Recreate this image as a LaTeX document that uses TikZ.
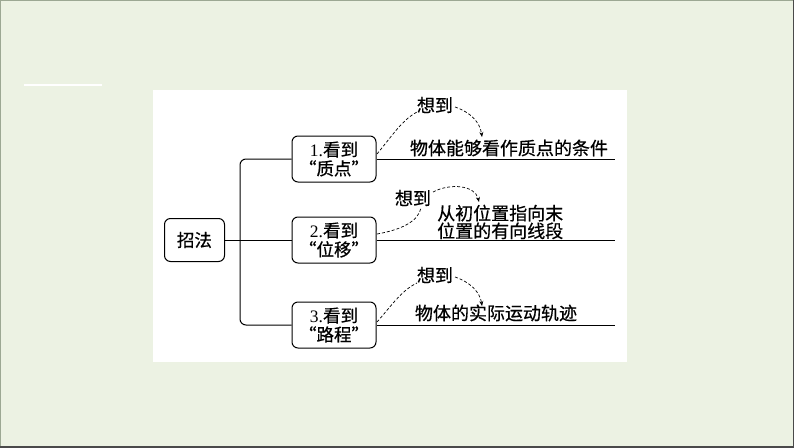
\documentclass[tikz,border=0pt]{standalone}
\usepackage{fontspec}
\setmainfont{Liberation Serif}
\newfontfamily\cjk[FakeBold=0.6]{Noto Sans CJK SC}
\usetikzlibrary{arrows.meta}
\definecolor{bgc}{HTML}{ECF2E3}
\definecolor{edgel}{HTML}{9CA893}
\definecolor{edged}{HTML}{4A4A4A}
\tikzset{
  box/.style={draw, line width=1pt, rounded corners=6pt, align=center, inner sep=0pt,
    font=\fontsize{17.5}{19}\selectfont\cjk},
  lbl/.style={inner sep=0pt, font=\fontsize{18}{18}\selectfont\cjk},
  conn/.style={line width=1pt},
  dsh/.style={dashed, line width=0.7pt, dash pattern=on 3pt off 2pt},
  arr/.style={-{Stealth[length=5pt,width=4pt]}}
}
\begin{document}
\begin{tikzpicture}[x=1pt,y=-1pt]
\useasboundingbox (0,0) rectangle (794,447);
\fill[bgc] (0,0) rectangle (794,447);
\draw[edgel, line width=2pt] (0,447) -- (0,0) -- (794,0);
\draw[edged, line width=2pt] (0,447) -- (794,447) -- (794,0);
\draw[white, line width=1.5pt] (24,85) -- (102,85);
\fill[white] (153,90) rectangle (627,362);

\node[box, minimum width=60pt, minimum height=43pt] (zf) at (194.5,240) {招法};
\node[box, minimum width=84pt, minimum height=46pt] (b1) at (334,159) {{\rmfamily 1.}看到\\“质点”};
\node[box, minimum width=84pt, minimum height=46pt] (b2) at (334,240) {{\rmfamily 2.}看到\\“位移”};
\node[box, minimum width=84pt, minimum height=46pt] (b3) at (334,325) {{\rmfamily 3.}看到\\“路程”};

\coordinate (trunk) at (240,240);
\draw[conn] (zf.east) -- (b2.west);
\draw[conn, rounded corners=6pt] (b1.west) -- (b1.west -| trunk) -- (b3.west -| trunk) -- (b3.west);

\coordinate (e1) at (615,159);
\coordinate (e2) at (615,240);
\coordinate (e3) at (615,325);
\draw[conn] (b1.east) -- (e1);
\draw[conn] (b2.east) -- (e2);
\draw[conn] (b3.east) -- (e3);

\node[lbl] (t1) at (509,148) {物体能够看作质点的条件};
\node[lbl, align=left, anchor=west, font=\fontsize{18}{16.5}\selectfont\cjk] (t2) at (437,222) {从初位置指向末\\位置的有向线段};
\node[lbl] (t3) at (496,313) {物体的实际运动轨迹};

\node[lbl] (x1) at (435,105) {想到};
\node[lbl] (x2) at (413,198) {想到};
\node[lbl] (x3) at (435,275) {想到};

\coordinate (s1) at (377,154);
\coordinate (s2) at (377,234);
\coordinate (s3) at (377,322);
\coordinate (a1) at (482,137);
\coordinate (a2) at (479,202);
\coordinate (a3) at (482,306);

\draw[dsh] (s1) .. controls (392,136) and (402,120) .. (417,112);
\draw[dsh, arr] (455,107) .. controls (470,112) and (480,122) .. (a1);
\draw[dsh] (s2) .. controls (400,230) and (418,222) .. (421,208);
\draw[dsh, arr] (433,192) .. controls (450,183) and (475,185) .. (a2);
\draw[dsh] (s3) .. controls (392,305) and (402,290) .. (417,283);
\draw[dsh, arr] (455,277) .. controls (470,282) and (480,292) .. (a3);
\end{tikzpicture}
\end{document}
